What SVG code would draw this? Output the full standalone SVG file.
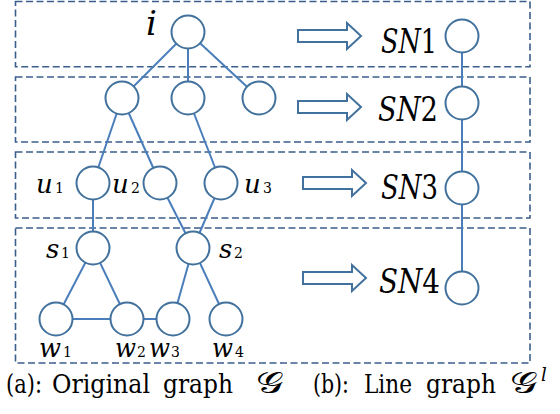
<svg xmlns="http://www.w3.org/2000/svg" width="560" height="414" viewBox="0 0 560 414">
<style>
.box{fill:none;stroke:#3B5E8C;stroke-width:1.6;stroke-dasharray:7 3.5}
.nd{fill:#fff;stroke:#41719C;stroke-width:2}
.ed{stroke:#4A7EBB;stroke-width:2;fill:none}
.ar{fill:#fff;stroke:#41719C;stroke-width:2}
text{font-family:'DejaVu Serif','Liberation Serif',serif;fill:#000}
.it{font-style:italic}
.sub{font-size:14px}
.lbl{font-size:26px}
.sn{font-size:34px}
.cap{font-size:26px}
.cg{font-size:30px}
</style>
<g id="boxes">
<rect class="box" x="15.5" y="1.5" width="514.5" height="65.2"/>
<rect class="box" x="15.5" y="77" width="514.5" height="65"/>
<rect class="box" x="15.5" y="152" width="514.5" height="66"/>
<rect class="box" x="15.5" y="228" width="514.5" height="135"/>
</g>
<g id="connectors">
<line class="ed" x1="188" y1="32" x2="122" y2="98"/>
<line class="ed" x1="188" y1="32" x2="188" y2="98"/>
<line class="ed" x1="188" y1="32" x2="259" y2="98"/>
<line class="ed" x1="122" y1="98" x2="93" y2="183"/>
<line class="ed" x1="122" y1="98" x2="160" y2="183"/>
<line class="ed" x1="188" y1="98" x2="221" y2="183"/>
<line class="ed" x1="93" y1="183" x2="93" y2="248"/>
<line class="ed" x1="160" y1="183" x2="193" y2="248"/>
<line class="ed" x1="221" y1="183" x2="193" y2="248"/>
<line class="ed" x1="93" y1="248" x2="56" y2="319"/>
<line class="ed" x1="93" y1="248" x2="127" y2="319"/>
<line class="ed" x1="56" y1="319" x2="127" y2="319"/>
<line class="ed" x1="127" y1="319" x2="173" y2="319"/>
<line class="ed" x1="193" y1="248" x2="173" y2="319"/>
<line class="ed" x1="193" y1="248" x2="226" y2="319"/>
<line class="ed" x1="462" y1="36" x2="462" y2="287"/>
</g>
<g id="arrows">
<path class="ar" d="M298 30H347V23L361 36L347 49V42H298Z"/>
<path class="ar" d="M298 101H347V94L361 107L347 120V113H298Z"/>
<path class="ar" d="M303 177H352V170L366 183L352 196V189H303Z"/>
<path class="ar" d="M303 272H352V265L366 278L352 291V284H303Z"/>
</g>
<g id="node-i"><circle class="nd" cx="188" cy="32" r="16.5"/><text class="it" x="146" y="35" font-size="34">i</text></g>
<g id="node-a"><circle class="nd" cx="122" cy="98" r="16.5"/></g>
<g id="node-b"><circle class="nd" cx="188" cy="98" r="16.5"/></g>
<g id="node-c"><circle class="nd" cx="259" cy="98" r="16.5"/></g>
<g id="node-u1"><circle class="nd" cx="93" cy="183" r="16.5"/><text class="it lbl" x="36" y="193">u</text><text class="sub" x="55" y="193">1</text></g>
<g id="node-u2"><circle class="nd" cx="160" cy="183" r="16.5"/><text class="it lbl" x="112" y="193">u</text><text class="sub" x="131" y="193">2</text></g>
<g id="node-u3"><circle class="nd" cx="221" cy="183" r="16.5"/><text class="it lbl" x="244" y="193">u</text><text class="sub" x="263" y="193">3</text></g>
<g id="node-s1"><circle class="nd" cx="93" cy="248" r="16.5"/><text class="it lbl" x="46" y="258">s</text><text class="sub" x="61" y="258">1</text></g>
<g id="node-s2"><circle class="nd" cx="193" cy="248" r="16.5"/><text class="it lbl" x="219" y="258">s</text><text class="sub" x="234" y="258">2</text></g>
<g id="node-w1"><circle class="nd" cx="56" cy="319" r="16.5"/><text class="it lbl" x="39" y="357" textLength="22" lengthAdjust="spacingAndGlyphs">w</text><text class="sub" x="63" y="357">1</text></g>
<g id="node-w2"><circle class="nd" cx="127" cy="319" r="16.5"/><text class="it lbl" x="115" y="357" textLength="21" lengthAdjust="spacingAndGlyphs">w</text><text class="sub" x="137" y="357">2</text></g>
<g id="node-w3"><circle class="nd" cx="173" cy="319" r="16.5"/><text class="it lbl" x="149" y="357" textLength="21" lengthAdjust="spacingAndGlyphs">w</text><text class="sub" x="171" y="357">3</text></g>
<g id="node-w4"><circle class="nd" cx="226" cy="319" r="16.5"/><text class="it lbl" x="212" y="357" textLength="21" lengthAdjust="spacingAndGlyphs">w</text><text class="sub" x="235" y="357">4</text></g>
<g id="node-SN1"><circle class="nd" cx="462" cy="36" r="16.5"/><text class="sn" x="381" y="53" textLength="56" lengthAdjust="spacingAndGlyphs"><tspan font-style="italic">SN</tspan>1</text></g>
<g id="node-SN2"><circle class="nd" cx="462" cy="103" r="16.5"/><text class="sn" x="378" y="121" textLength="60" lengthAdjust="spacingAndGlyphs"><tspan font-style="italic">SN</tspan>2</text></g>
<g id="node-SN3"><circle class="nd" cx="462" cy="188" r="16.5"/><text class="sn" x="381" y="199" textLength="57" lengthAdjust="spacingAndGlyphs"><tspan font-style="italic">SN</tspan>3</text></g>
<g id="node-SN4"><circle class="nd" cx="462" cy="288" r="16.5"/><text class="sn" x="379" y="293" textLength="61" lengthAdjust="spacingAndGlyphs"><tspan font-style="italic">SN</tspan>4</text></g>
<g id="captions">
<text class="cap" x="6" y="393" textLength="36" lengthAdjust="spacingAndGlyphs">(a):</text>
<text class="cap" x="52" y="393" textLength="98" lengthAdjust="spacingAndGlyphs">Original</text>
<text class="cap" x="163" y="393" textLength="70" lengthAdjust="spacingAndGlyphs">graph</text>
<text class="cap cg" x="256" y="393" textLength="27" lengthAdjust="spacingAndGlyphs">𝒢</text>
<text class="cap" x="313" y="393" textLength="36" lengthAdjust="spacingAndGlyphs">(b):</text>
<text class="cap" x="364" y="393" textLength="48" lengthAdjust="spacingAndGlyphs">Line</text>
<text class="cap" x="426" y="393" textLength="70" lengthAdjust="spacingAndGlyphs">graph</text>
<text class="cap cg" x="510" y="393" textLength="27" lengthAdjust="spacingAndGlyphs">𝒢</text>
<text class="it" x="541" y="381" font-size="18">l</text>
</g>
</svg>
